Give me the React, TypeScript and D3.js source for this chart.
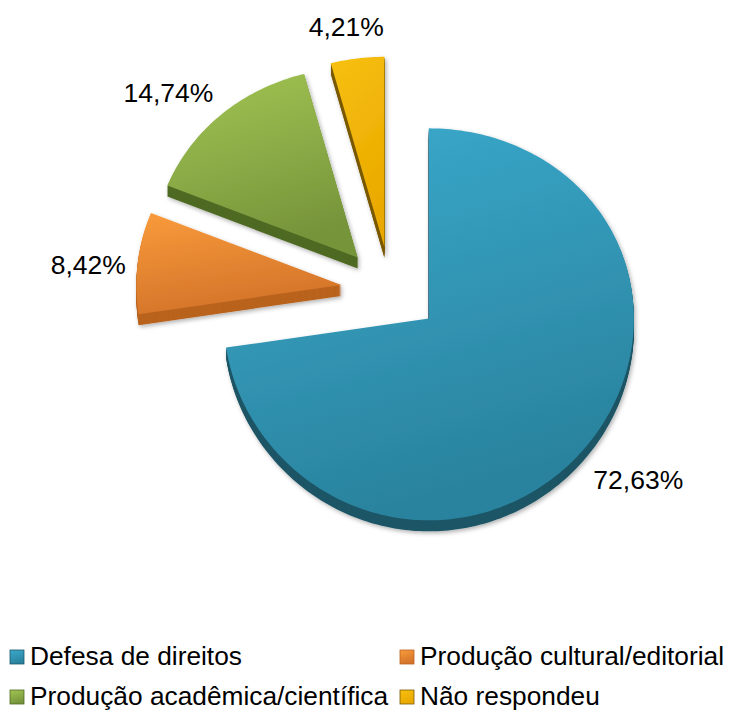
import * as React from 'react';
import * as d3 from 'd3';

const categories = ['Defesa de direitos', 'Produção cultural/editorial', 'Produção acadêmica/científica', 'Não respondeu'];
const values = [72.63, 8.42, 14.74, 4.21];
const valueLabels = ['72,63%', '8,42%', '14,74%', '4,21%'];
const topColors = ['#3aaacd', '#f99b3b', '#a2c553', '#f7c00f'];
const bottomColors = ['#2a839e', '#d4742a', '#76953b', '#eaa900'];
const sideColors = ['#1d5566', '#b9631f', '#4f6a23', '#7a5a00'];

const svgWidth = 735;
const svgHeight = 715;
const cx = 391;
const cy = 290;
const radius = 205;
const explode = 50;
const depth = 11;
const font = '"Liberation Sans", Arial, sans-serif';

// slight perspective: far half flatter than near half
const ky = (a: number) => 0.956 - 0.029 * Math.cos(a);

const pt = (ox: number, oy: number, a: number, r: number): [number, number] =>
    [ox + r * Math.sin(a), oy - r * Math.cos(a) * ky(a)];

const App: React.FunctionComponent = () => {
    const ref = React.useRef<SVGSVGElement>(null);

    React.useEffect(() => {
        if (!ref.current) {
            return;
        }
        const svg = d3.select(ref.current);
        svg.selectAll('*').remove();

        const defs = svg.append('defs');
        categories.forEach((c, i) => {
            const g = defs.append('linearGradient')
                .attr('id', 'grad' + i)
                .attr('x1', 0).attr('y1', 0).attr('x2', 0.3).attr('y2', 1);
            g.append('stop').attr('offset', '0%').attr('stop-color', topColors[i]);
            g.append('stop').attr('offset', '100%').attr('stop-color', bottomColors[i]);
        });
        const f = defs.append('filter').attr('id', 'shadow')
            .attr('x', '-10%').attr('y', '-10%').attr('width', '130%').attr('height', '130%');
        f.append('feDropShadow')
            .attr('dx', 1.5).attr('dy', 2).attr('stdDeviation', 2)
            .attr('flood-color', '#000').attr('flood-opacity', 0.3);

        const pie = d3.pie<number>().sort(null).value(d => d);
        const arcs = pie(values).map((d, i) => {
            const mid = (d.startAngle + d.endAngle) / 2;
            const ox = cx + explode * Math.sin(mid);
            const oy = cy - explode * Math.cos(mid) * 0.87;
            const n = Math.max(4, Math.ceil((d.endAngle - d.startAngle) / (Math.PI / 180)));
            const pts: [number, number][] = [[ox, oy]];
            for (let k = 0; k <= n; k++) {
                const a = d.startAngle + (d.endAngle - d.startAngle) * k / n;
                pts.push(pt(ox, oy, a, radius));
            }
            return { d, i, mid, ox, oy, pts };
        });
        const line = d3.line().curve(d3.curveLinearClosed);

        const order = arcs.slice().sort((a, b) => a.oy - b.oy);
        const slices = svg.append('g').attr('class', 'slices')
            .selectAll('g.slice')
            .data(order)
            .join('g')
            .attr('class', 'slice')
            .attr('filter', 'url(#shadow)');

        slices.each(function (s) {
            const g = d3.select(this);
            const path = line(s.pts) as string;
            for (let k = depth; k >= 1; k--) {
                g.append('path')
                    .attr('d', path)
                    .attr('transform', `translate(0,${k})`)
                    .attr('fill', sideColors[s.i]);
            }
            g.append('path')
                .attr('d', path)
                .attr('fill', `url(#grad${s.i})`);
        });

        svg.append('g').attr('class', 'labels')
            .selectAll('text')
            .data(arcs)
            .join('text')
            .attr('x', s => pt(s.ox, s.oy, s.mid, radius + 12)[0] - 10 * Math.max(0, Math.cos(s.mid) - 0.8) / 0.2)
            .attr('y', s => pt(s.ox, s.oy, s.mid, radius + 12)[1] + 15.5 - 26.8 * Math.cos(s.mid))
            .attr('text-anchor', s => {
                const sn = Math.sin(s.mid);
                return sn > 0.3 ? 'start' : sn < -0.3 ? 'end' : 'middle';
            })
            .attr('font-family', font)
            .attr('font-size', 26.5)
            .attr('fill', '#000')
            .text(s => valueLabels[s.i]);

        // legend: two items per row, second item placed after the first column
        const legend = svg.append('g').attr('class', 'legend');
        const rowY = [665, 705];
        const col0X = 10;
        const col1Min = 400;
        [0, 1].forEach(row => {
            const a = row * 2;
            const b = row * 2 + 1;
            const t0 = legend.append('text')
                .attr('x', col0X + 20).attr('y', rowY[row])
                .attr('font-family', font).attr('font-size', 26.3)
                .text(categories[a]);
            legend.append('rect')
                .attr('x', col0X).attr('y', rowY[row] - 15)
                .attr('width', 14).attr('height', 14)
                .attr('fill', `url(#grad${a})`)
                .attr('stroke', sideColors[a]).attr('stroke-width', 0.8);
            const end = col0X + 20 + (t0.node() as SVGTextElement).getComputedTextLength();
            const x1 = Math.max(col1Min, end + 3);
            legend.append('rect')
                .attr('x', x1).attr('y', rowY[row] - 15)
                .attr('width', 14).attr('height', 14)
                .attr('fill', `url(#grad${b})`)
                .attr('stroke', sideColors[b]).attr('stroke-width', 0.8);
            legend.append('text')
                .attr('x', x1 + 20).attr('y', rowY[row])
                .attr('font-family', font).attr('font-size', 26.3)
                .text(categories[b]);
        });
    });

    return (
        <svg ref={ref} width={svgWidth} height={svgHeight}
            style={{ position: 'absolute', left: 0, top: 0, background: '#fff' }} />
    );
};

export default App;
